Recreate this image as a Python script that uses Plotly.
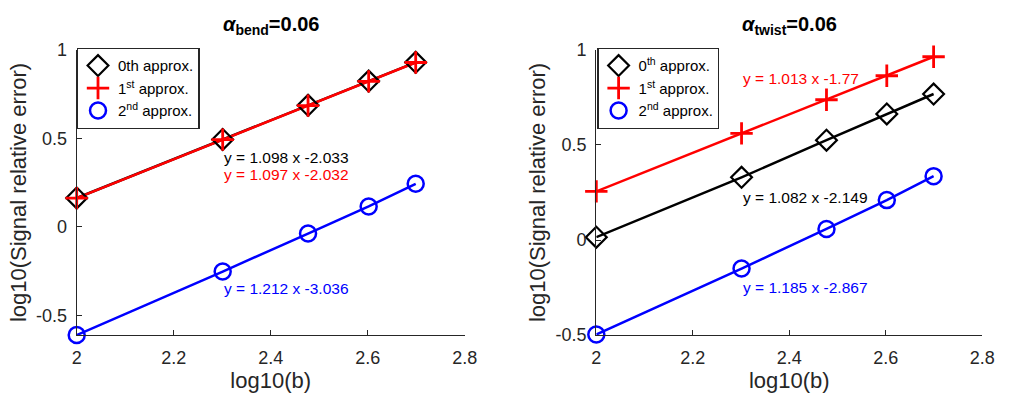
import plotly.graph_objects as go

x_vals = [2.0, 2.301, 2.477, 2.602, 2.699]

# Left panel (alpha_bend)
bend_0th = [0.163, 0.494, 0.687, 0.824, 0.930]
bend_1st = [0.162, 0.493, 0.685, 0.822, 0.929]
bend_2nd = [-0.612, -0.253, -0.038, 0.115, 0.243]

# Right panel (alpha_twist)
twist_0th = [0.015, 0.330, 0.525, 0.663, 0.768]
twist_1st = [0.256, 0.561, 0.738, 0.864, 0.964]
twist_2nd = [-0.497, -0.150, 0.058, 0.210, 0.336]

x_ticks = [2, 2.2, 2.4, 2.6, 2.8]
x_ticklabels = ["2", "2.2", "2.4", "2.6", "2.8"]
y_ticks = [-0.5, 0, 0.5, 1]
y_ticklabels = ["-0.5", "0", "0.5", "1"]

W, H = 1014, 404
FONT = "Liberation Sans, Arial, sans-serif"
AX = "#262626"

fig = go.Figure()

styles = {
    "0": dict(color="black", symbol="diamond-open", size=16, lw=2.2),
    "1": dict(color="#FF0000", symbol="cross-thin-open", size=16, lw=2.8),
    "2": dict(color="#0000FF", symbol="circle-open", size=16, lw=2.5),
}

def add_panel(xa, ya, legend, series, names):
    for key, yv in series:
        st = styles[key]
        fig.add_trace(go.Scatter(x=x_vals, y=yv, mode="lines", xaxis=xa, yaxis=ya,
                                 line=dict(color=st["color"], width=2.5), showlegend=False,
                                 hoverinfo="skip", cliponaxis=False))
    for key, yv in series:
        st = styles[key]
        fig.add_trace(go.Scatter(x=x_vals, y=yv, mode="markers", xaxis=xa, yaxis=ya,
                                 name=names[key], legend=legend, cliponaxis=False,
                                 marker=dict(symbol=st["symbol"], size=st["size"], color=st["color"],
                                             line=dict(color=st["color"], width=st["lw"]))))

add_panel("x", "y", "legend",
          [("0", bend_0th), ("1", bend_1st), ("2", bend_2nd)],
          {"0": "0th approx.", "1": "1<sup>st</sup> approx.", "2": "2<sup>nd</sup> approx."})
add_panel("x2", "y2", "legend2",
          [("0", twist_0th), ("1", twist_1st), ("2", twist_2nd)],
          {"0": "0<sup>th</sup> approx.", "1": "1<sup>st</sup> approx.", "2": "2<sup>nd</sup> approx."})

ydom = [1 - 342 / H, 1 - 42 / H]
axis_common = dict(showline=True, linecolor=AX, linewidth=1.3, ticks="inside", ticklen=5,
                   tickcolor=AX, showgrid=False, zeroline=False, mirror=False,
                   tickfont=dict(family=FONT, size=18, color=AX))
title_ax_font = dict(size=22, family=FONT, color=AX)

xa_common = dict(range=[2, 2.8], tickvals=x_ticks, ticktext=x_ticklabels, ticklabelstandoff=6,
                 title=dict(text="log10(b)", font=title_ax_font, standoff=3), **axis_common)
ya_common = dict(domain=ydom, tickvals=y_ticks, ticktext=y_ticklabels, ticklabelstandoff=5,
                 title=dict(text="log10(Signal relative error)", font=title_ax_font, standoff=3),
                 **axis_common)

leg_common = dict(xanchor="left", yanchor="top", bgcolor="white", bordercolor=AX, borderwidth=1.3,
                  font=dict(size=15, family=FONT, color="black"), tracegroupgap=0, itemwidth=30)

fig.update_layout(
    width=W, height=H, margin=dict(l=0, r=0, t=0, b=0),
    paper_bgcolor="white", plot_bgcolor="white",
    font=dict(family=FONT, color=AX),
    xaxis=dict(domain=[73 / W, 468 / W], anchor="y", **xa_common),
    yaxis=dict(range=[-0.612, 1], anchor="x", **ya_common),
    xaxis2=dict(domain=[602 / W, 995 / W], anchor="y2", **xa_common),
    yaxis2=dict(range=[-0.5, 1], anchor="x2", **ya_common),
    legend=dict(x=73 / W, y=1 - 40 / H, **leg_common),
    legend2=dict(x=603 / W, y=1 - 40 / H, **leg_common),
)

title_font = dict(family=FONT, size=20, color="black")
fig.add_annotation(text="<b><i>α</i><sub>bend</sub>=0.06</b>", xref="paper", yref="paper",
                   x=(73 + 468) / 2 / W, y=1 - 16 / H, showarrow=False, font=title_font,
                   xanchor="center", yanchor="middle")
fig.add_annotation(text="<b><i>α</i><sub>twist</sub>=0.06</b>", xref="paper", yref="paper",
                   x=(602 + 995) / 2 / W, y=1 - 16 / H, showarrow=False, font=title_font,
                   xanchor="center", yanchor="middle")

ann = [
    ("x", "y", 2.3, 0.39, "y = 1.098 x -2.033", "black"),
    ("x", "y", 2.3, 0.295, "y = 1.097 x -2.032", "#FF0000"),
    ("x", "y", 2.3, -0.35, "y = 1.212 x -3.036", "#0000FF"),
    ("x2", "y2", 2.3, 0.85, "y = 1.013 x -1.77", "#FF0000"),
    ("x2", "y2", 2.3, 0.225, "y = 1.082 x -2.149", "black"),
    ("x2", "y2", 2.3, -0.25, "y = 1.185 x -2.867", "#0000FF"),
]
for xr, yr, xv, yv, txt, col in ann:
    fig.add_annotation(text=txt, xref=xr, yref=yr, x=xv, y=yv, showarrow=False,
                       xanchor="left", yanchor="middle", font=dict(family=FONT, size=15.5, color=col))

fig.write_html("out.html")
